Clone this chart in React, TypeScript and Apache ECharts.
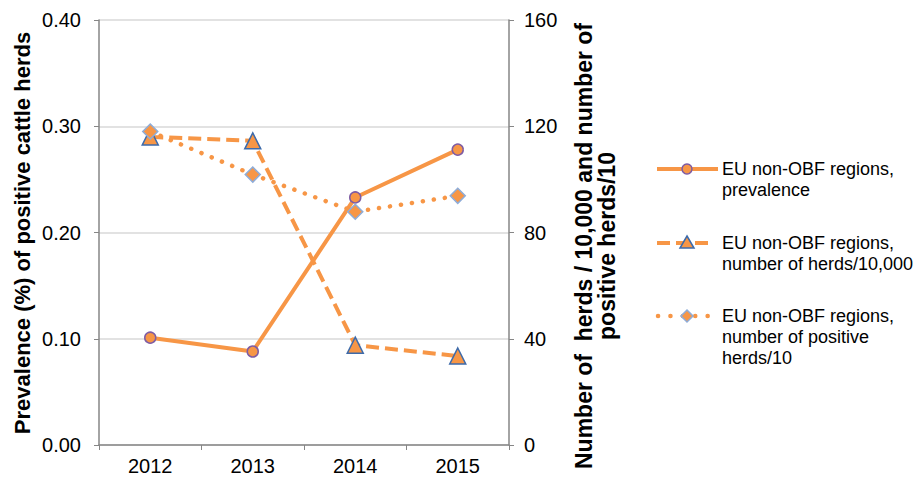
import React, { useEffect, useRef } from "react";
import * as echarts from "echarts";

const years = ["2012", "2013", "2014", "2015"];
const prevalence = [0.101, 0.088, 0.233, 0.278];
const herds10000 = [116, 114.5, 37.6, 33.5];
const positiveHerds10 = [118, 101.8, 87.8, 93.8];

const leftTicks = [0, 0.1, 0.2, 0.3, 0.4];
const rightTicks = [0, 40, 80, 120, 160];

const seriesNames = [
  "EU non-OBF regions,\nprevalence",
  "EU non-OBF regions,\nnumber of herds/10,000",
  "EU non-OBF regions,\nnumber of positive\nherds/10",
];

const ORANGE = "#F79646";
const FONT = "'Liberation Sans', Arial, sans-serif";

export default function App() {
  const ref = useRef<HTMLDivElement>(null);
  useEffect(() => {
    if (!ref.current) return;
    const chart = echarts.init(ref.current, null, { renderer: "svg" });
    const legendY = [169, 243, 316];
    const legendGraphics: any[] = [];
    legendGraphics.push({
      type: "line",
      shape: { x1: 657, y1: legendY[0], x2: 718, y2: legendY[0] },
      style: { stroke: ORANGE, lineWidth: 4 },
    });
    legendGraphics.push({
      type: "circle",
      shape: { cx: 687, cy: legendY[0], r: 5 },
      style: { fill: ORANGE, stroke: "#7E5CA4", lineWidth: 1.5 },
    });
    legendGraphics.push({
      type: "line",
      shape: { x1: 657, y1: legendY[1], x2: 711, y2: legendY[1] },
      style: { stroke: ORANGE, lineWidth: 4, lineDash: [13, 6] },
    });
    legendGraphics.push({
      type: "polygon",
      shape: { points: [[687, legendY[1] - 7], [694, legendY[1] + 5], [680, legendY[1] + 5]] },
      style: { fill: ORANGE, stroke: "#3C6AAA", lineWidth: 1.5 },
    });
    legendGraphics.push({
      type: "line",
      shape: { x1: 658, y1: legendY[2], x2: 712, y2: legendY[2] },
      style: { stroke: ORANGE, lineWidth: 4.5, lineDash: [0.1, 12.3], lineCap: "round" },
    });
    legendGraphics.push({
      type: "polygon",
      shape: { points: [[687, legendY[2] - 6], [693, legendY[2]], [687, legendY[2] + 6], [681, legendY[2]]] },
      style: { fill: ORANGE, stroke: "#8EACD8", lineWidth: 1.5 },
    });
    seriesNames.forEach((n, i) => {
      legendGraphics.push({
        type: "text",
        x: 722,
        y: legendY[i] - 11,
        style: {
          text: n,
          fill: "#000",
          font: `18px ${FONT}`,
          lineHeight: 21,
          textVerticalAlign: "top",
          textAlign: "left",
        },
      });
    });

    chart.setOption({
      animation: false,
      grid: { left: 99, right: 410, top: 20, bottom: 37 },
      xAxis: {
        type: "category",
        data: years,
        boundaryGap: true,
        axisLine: { lineStyle: { color: "#868686", width: 1.5 } },
        axisTick: { show: true, length: 5, lineStyle: { color: "#868686" } },
        axisLabel: { color: "#000", fontSize: 20, fontFamily: FONT, margin: 11 },
      },
      yAxis: [
        {
          type: "value",
          min: leftTicks[0],
          max: leftTicks[leftTicks.length - 1],
          interval: 0.1,
          axisLine: { show: true, lineStyle: { color: "#868686", width: 1.5 } },
          axisTick: { show: true, length: 5, lineStyle: { color: "#868686" } },
          splitLine: { show: true, lineStyle: { color: "#D9D9D9", width: 1.5 } },
          axisLabel: {
            color: "#000",
            fontSize: 20,
            fontFamily: FONT,
            margin: 18,
            formatter: (v: number) => v.toFixed(2),
          },
        },
        {
          type: "value",
          position: "right",
          min: rightTicks[0],
          max: rightTicks[rightTicks.length - 1],
          interval: 40,
          axisLine: { show: true, lineStyle: { color: "#868686", width: 1.5 } },
          axisTick: { show: true, length: 5, lineStyle: { color: "#868686" } },
          splitLine: { show: false },
          axisLabel: { color: "#000", fontSize: 20, fontFamily: FONT, margin: 15 },
        },
      ],
      series: [
        {
          name: seriesNames[0],
          type: "line",
          data: prevalence,
          yAxisIndex: 0,
          symbol: "circle",
          symbolSize: 11,
          lineStyle: { color: ORANGE, width: 4 },
          itemStyle: { color: ORANGE, borderColor: "#7E5CA4", borderWidth: 1.5 },
          z: 3,
        },
        {
          name: seriesNames[1],
          type: "line",
          data: herds10000,
          yAxisIndex: 1,
          symbol: "triangle",
          symbolSize: 16,
          lineStyle: { color: ORANGE, width: 4, type: [13, 6] },
          itemStyle: { color: ORANGE, borderColor: "#3C6AAA", borderWidth: 1.5 },
          z: 2,
        },
        {
          name: seriesNames[2],
          type: "line",
          data: positiveHerds10,
          yAxisIndex: 1,
          symbol: "diamond",
          symbolSize: 15,
          lineStyle: { color: ORANGE, width: 4.5, type: [0.1, 11], cap: "round" },
          itemStyle: { color: ORANGE, borderColor: "#8EACD8", borderWidth: 1.5 },
          z: 4,
        },
      ],
      graphic: [
        {
          type: "text",
          x: 22,
          y: 233,
          rotation: Math.PI / 2,
          style: {
            text: "Prevalence (%) of positive cattle herds",
            fill: "#000",
            font: `bold 22px ${FONT}`,
            textAlign: "center",
            textVerticalAlign: "middle",
          },
        },
        {
          type: "text",
          x: 595,
          y: 246,
          rotation: Math.PI / 2,
          style: {
            text: "Number of  herds / 10,000 and number of\npositive herds/10",
            fill: "#000",
            font: `bold 23px ${FONT}`,
            lineHeight: 23,
            textAlign: "center",
            textVerticalAlign: "middle",
          },
        },
        ...legendGraphics,
      ],
    });
    return () => chart.dispose();
  }, []);
  return <div ref={ref} style={{ width: 919, height: 482, position: "absolute", left: 0, top: 0 }} />;
}
